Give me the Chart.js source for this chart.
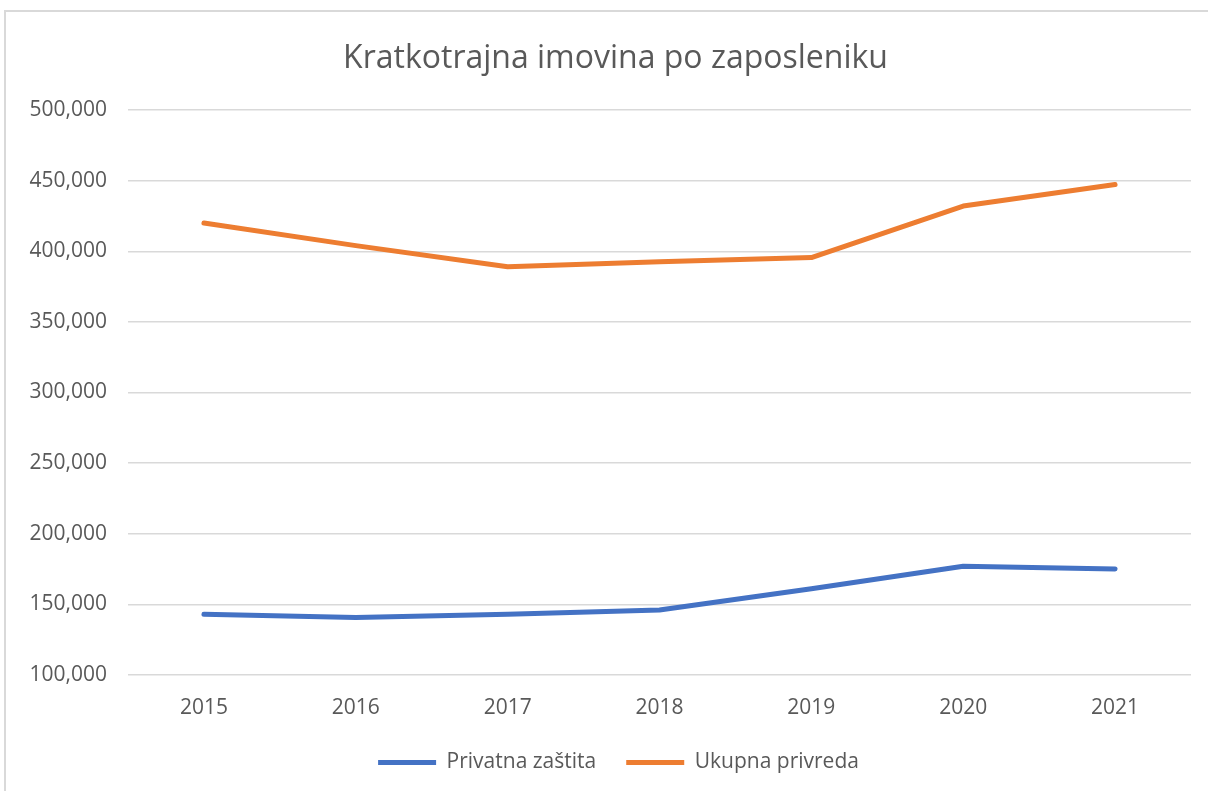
<!DOCTYPE html>
<html><head><meta charset="utf-8">
<script src="https://cdn.jsdelivr.net/npm/chart.js@4"></script>
<style>
html,body{margin:0;padding:0;background:#fff;width:1208px;height:791px;overflow:hidden}
#frame{position:absolute;left:4px;top:10px;width:1300px;height:900px;border-left:2px solid #d9d9d9;border-top:2px solid #d9d9d9;box-sizing:border-box}
#wrap{position:absolute;left:0;top:0;width:1208px;height:791px}
</style></head><body>
<div id="frame"></div>
<div id="wrap"><canvas id="c" width="1208" height="791"></canvas></div>
<script>
const years = ['2015','2016','2017','2018','2019','2020','2021'];
const privatnaZastita = [143000,140700,143000,146000,161000,177000,175100];
const ukupnaPrivreda = [420000,404000,389000,392500,395500,432000,447200];
const yMin = 100000, yMax = 500000, yStep = 50000;
const seriesNames = ['Privatna zaštita','Ukupna privreda'];
const titleText = 'Kratkotrajna imovina po zaposleniku';

const FONT = "'Open Sans', 'DejaVu Sans', sans-serif";
const TXT = '#595959';

const shiftBlocks = {
  id: 'shiftBlocks',
  afterLayout(chart) {
    if (chart.titleBlock) chart.titleBlock.left = 40;
    if (chart.legend) chart.legend.left = 46;
  }
};

new Chart(document.getElementById('c'), {
  type: 'line',
  data: {
    labels: years,
    datasets: [
      {label: seriesNames[0], data: privatnaZastita, borderColor: '#4472C4', backgroundColor: '#4472C4',
       borderWidth: 5, pointRadius: 0, borderCapStyle: 'round', borderJoinStyle: 'round', tension: 0},
      {label: seriesNames[1], data: ukupnaPrivreda, borderColor: '#ED7D31', backgroundColor: '#ED7D31',
       borderWidth: 5, pointRadius: 0, borderCapStyle: 'round', borderJoinStyle: 'round', tension: 0}
    ]
  },
  plugins: [shiftBlocks],
  options: {
    responsive: false,
    animation: false,
    layout: {padding: {left: 0, right: 17, top: 0, bottom: 8}},
    plugins: {
      title: {display: true, text: titleText, color: TXT,
        font: {family: FONT, size: 32, weight: 'normal', lineHeight: 1.2},
        padding: {top: 40, bottom: 31.6}},
      legend: {position: 'bottom',
        labels: {usePointStyle: true, pointStyle: 'line', pointStyleWidth: 58,
          color: TXT, font: {family: FONT, size: 21}, padding: 30}},
      tooltip: {enabled: false}
    },
    scales: {
      x: {
        offset: true,
        grid: {display: false, drawTicks: false},
        border: {display: false},
        ticks: {color: TXT, font: {family: FONT, size: 21}, padding: 20, maxRotation: 0},
        afterFit: s => { s.height = 47; }
      },
      y: {
        min: yMin, max: yMax,
        grid: {color: '#d9d9d9', lineWidth: 1.5, drawTicks: false},
        border: {display: false},
        ticks: {stepSize: yStep, color: TXT, font: {family: FONT, size: 21}, padding: 21,
          callback: v => v.toLocaleString('en-US')},
        afterFit: s => { s.width = 128; }
      }
    }
  }
});
</script>
</body></html>
